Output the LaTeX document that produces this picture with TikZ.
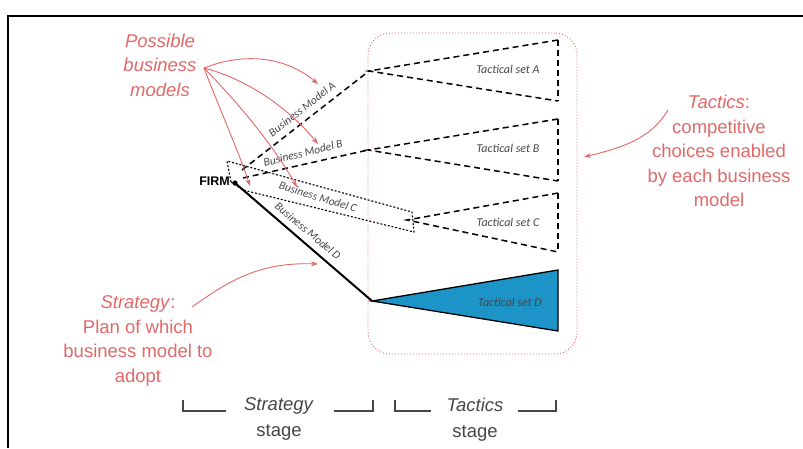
\documentclass[tikz,border=0pt]{standalone}
\usepackage{fontspec}
\setmainfont{Liberation Sans}
\newfontfamily\calfam{Carlito}
\usetikzlibrary{arrows.meta}
\definecolor{annot}{RGB}{226,104,104}
\definecolor{setblue}{RGB}{28,148,200}
\definecolor{darktext}{RGB}{70,70,70}
\begin{document}
\begin{tikzpicture}[x=1pt,y=-1pt,
  bmdash/.style={black,line width=1.5pt,dash pattern=on 6pt off 4pt},
  bmdot/.style={black,line width=1.1pt,dash pattern=on 2pt off 1.8pt},
  redarrow/.style={annot,line width=0.9pt,-{Stealth[length=7pt,width=5pt]}},
  annottext/.style={annot,font=\fontsize{18.5}{24.5}\selectfont,align=center,inner sep=0},
  setlabel/.style={darktext,font=\calfam\itshape\fontsize{12}{14}\selectfont,inner sep=0},
  bmlabel/.style={darktext,font=\calfam\itshape\fontsize{11.5}{13}\selectfont,inner sep=0},
  stagetext/.style={darktext,font=\fontsize{18.5}{26}\selectfont,align=center,inner sep=0},
  bracketline/.style={darktext,line width=1.8pt}]
\useasboundingbox (0,0) rectangle (803,448);
% frame
\coordinate (frBL) at (8,448);
\coordinate (frTL) at (8,16);
\coordinate (frTR) at (803,16);
\draw[line width=1.6pt] (frBL) -- (frTL) -- (frTR);

% tactics region
\node[draw=annot,line width=0.9pt,dash pattern=on 1pt off 2pt,rounded corners=22pt,
      minimum width=209pt,minimum height=321pt,inner sep=0] (tacbox) at (472.5,193.5) {};

% key points
\coordinate (F) at (235,183);
\coordinate (Aap) at (369,71);
\coordinate (Bap) at (368,150);
\coordinate (Cap) at (407,220);
\coordinate (Dap) at (372,301);
\coordinate (Atop) at (558,40);   \coordinate (Abot) at (558,101);
\coordinate (Btop) at (558,119);  \coordinate (Bbot) at (558,181);
\coordinate (Ctop) at (558,193);  \coordinate (Cbot) at (558,252);
\coordinate (Dtop) at (558,270);  \coordinate (Dbot) at (558,331);
\coordinate (Astart) at (242,170);
\coordinate (Bstart) at (243,178);

% business model C dotted band
\coordinate (c1) at (231,182);
\coordinate (c2) at (227,161);
\coordinate (c3) at (412,212);
\coordinate (c4) at (414,232);
\coordinate (c5) at (243,190);
\draw[bmdot] (c1) -- (c2) -- (c3) -- (c4) -- (c5) -- cycle;

% business models A, B
\draw[bmdash] (Astart) -- (Aap);
\draw[bmdash] (Bstart) -- (Bap);
% business model D
\draw[black,line width=2pt] (F) -- (Dap);
\fill[black] (F) circle (2.6pt);

% tactical sets
\draw[bmdash] (Atop) -- (Aap) -- (Abot);
\draw[bmdash] (Atop) -- (Abot);
\draw[bmdash] (Btop) -- (Bap) -- (Bbot);
\draw[bmdash] (Btop) -- (Bbot);
\draw[bmdash] (Ctop) -- (Cap) -- (Cbot);
\draw[bmdash] (Ctop) -- (Cbot);
\filldraw[fill=setblue,draw=black,line width=1.3pt] (Dap) -- (Dtop) -- (Dbot) -- cycle;

\node[setlabel] (tsA) at (508,69) {Tactical set A};
\node[setlabel] (tsB) at (508,148) {Tactical set B};
\node[setlabel] (tsC) at (508,222) {Tactical set C};
\node[setlabel] (tsD) at (510,302) {Tactical set D};

% business model labels
\node[bmlabel,rotate=38] (bmA) at (302,109) {Business Model A};
\node[bmlabel,rotate=14] (bmB) at (303,153) {Business Model B};
\node[bmlabel,rotate=-17] (bmC) at (318,197) {Business Model C};
\node[bmlabel,rotate=-40] (bmD) at (308,231) {Business Model D};

% FIRM
\node[font=\bfseries\fontsize{12.5}{14}\selectfont,inner sep=0,anchor=east] (firm) at (230,181) {FIRM};

% annotation: possible business models
\node[annottext] (pbm) at (160,65) {\itshape Possible\\\itshape business\\\itshape models};
\coordinate (pbmO) at (204,68);
\coordinate (pA) at (318,84);
\coordinate (pB) at (318,144);
\coordinate (pC) at (297,187);
\coordinate (pD) at (250,186);
\draw[redarrow] (pbmO) .. controls (250,50) and (290,60) .. (pA);
\draw[redarrow] (pbmO) .. controls (250,80) and (290,110) .. (pB);
\draw[redarrow] (pbmO) .. controls (235,100) and (270,140) .. (pC);
\draw[redarrow] (pbmO) .. controls (220,110) and (238,150) .. (pD);

% annotation: tactics
\node[annottext] (tac) at (719,151) {\textit{Tactics}:\\competitive\\choices enabled\\by each business\\model};
\coordinate (tacO) at (668,110);
\coordinate (tacE) at (584,157);
\draw[redarrow] (tacO) .. controls (650,140) and (620,148) .. (tacE);

% annotation: strategy
\node[annottext] (str) at (138,341) {\textit{Strategy}:\\Plan of which\\business model to\\adopt};
\coordinate (strO) at (192,307);
\coordinate (strE) at (318,264);
\draw[redarrow] (strO) .. controls (230,280) and (260,262) .. (strE);

% stages
\node[stagetext] (sst) at (279,419) {\textit{Strategy}\\stage};
\node[stagetext] (tst) at (475,420) {\textit{Tactics}\\stage};
\coordinate (s1) at (183,400); \coordinate (s2) at (183,411); \coordinate (s3) at (226,411);
\coordinate (s4) at (334,411); \coordinate (s5) at (373,411); \coordinate (s6) at (373,400);
\coordinate (t1) at (395,400); \coordinate (t2) at (395,411); \coordinate (t3) at (431,411);
\coordinate (t4) at (518,411); \coordinate (t5) at (556,411); \coordinate (t6) at (556,400);
\draw[bracketline] (s1) -- (s2) -- (s3);
\draw[bracketline] (s4) -- (s5) -- (s6);
\draw[bracketline] (t1) -- (t2) -- (t3);
\draw[bracketline] (t4) -- (t5) -- (t6);
\end{tikzpicture}
\end{document}
